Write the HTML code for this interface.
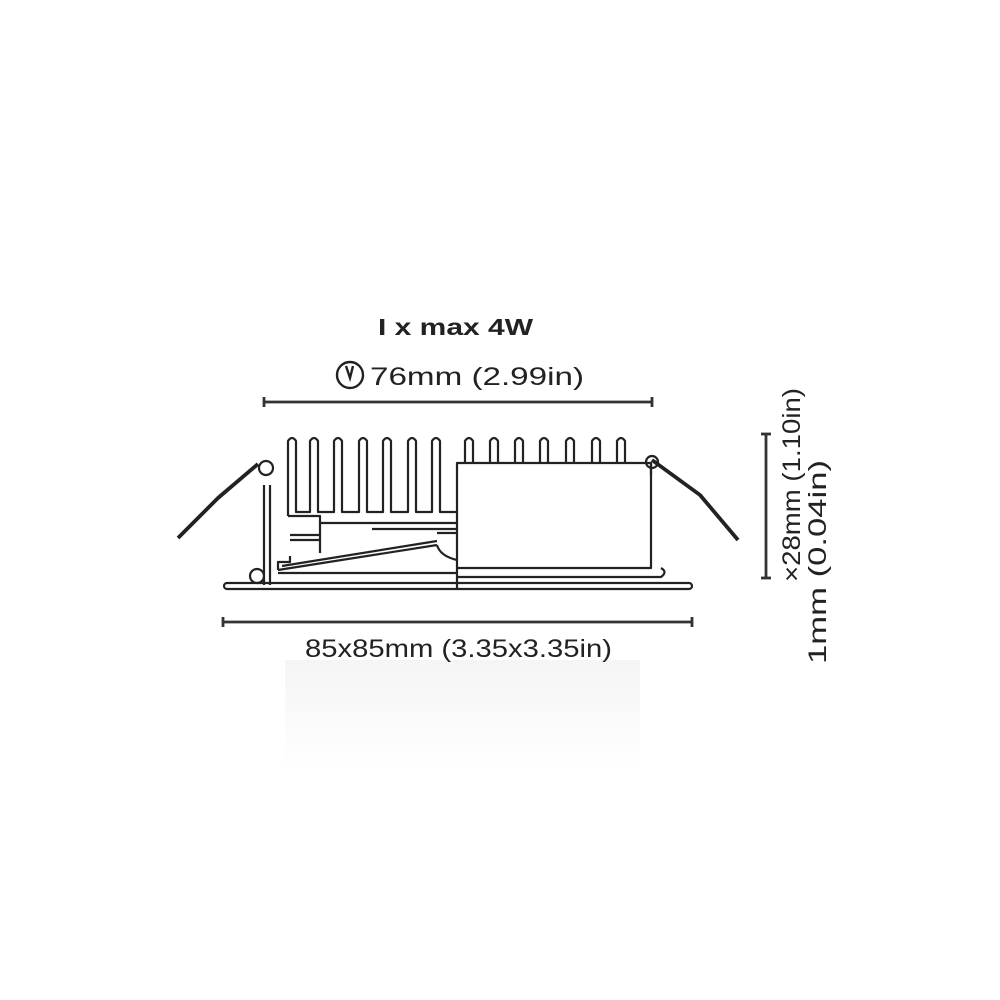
<!DOCTYPE html>
<html><head><meta charset="utf-8"><style>
html,body{margin:0;padding:0;background:#fff;}
svg{display:block}
text{font-family:"Liberation Sans","DejaVu Sans",sans-serif;fill:#222}
</style></head><body>
<svg width="1000" height="1000" viewBox="0 0 1000 1000">
<defs>
<linearGradient id="g" x1="0" y1="0" x2="0" y2="1">
<stop offset="0" stop-color="#eee"/><stop offset="1" stop-color="#fff"/>
</linearGradient>
</defs>
<rect x="285" y="660" width="355" height="110" fill="url(#g)" opacity="0.6"/>
<text x="378" y="335" font-size="23" font-weight="bold" textLength="155" lengthAdjust="spacingAndGlyphs">I x max 4W</text>
<g stroke="#222" stroke-width="2.4" fill="none">
<circle cx="350" cy="375" r="13"/>
<path d="M346 366 L350 378 L353 366"/>
</g>
<text x="370" y="385" font-size="25" textLength="214" lengthAdjust="spacingAndGlyphs">76mm (2.99in)</text>
<g stroke="#333" stroke-width="2.8" fill="none">
<line x1="264" y1="402" x2="652" y2="402"/>
<line x1="264" y1="397" x2="264" y2="407"/>
<line x1="652" y1="397" x2="652" y2="407"/>
<line x1="223" y1="622" x2="692" y2="622"/>
<line x1="223" y1="617" x2="223" y2="627"/>
<line x1="692" y1="617" x2="692" y2="627"/>
<line x1="766" y1="434" x2="766" y2="578"/>
<line x1="761" y1="434" x2="771" y2="434"/>
<line x1="761" y1="578" x2="771" y2="578"/>
</g>
<text x="305" y="657" font-size="25" textLength="307" lengthAdjust="spacingAndGlyphs">85x85mm (3.35x3.35in)</text>
<text transform="translate(800,582) rotate(-90)" font-size="25" textLength="194" lengthAdjust="spacingAndGlyphs">×28mm (1.10in)</text>
<text transform="translate(826,664) rotate(-90)" font-size="25" textLength="204" lengthAdjust="spacingAndGlyphs">1mm (0.04in)</text>
<g stroke="#222" stroke-width="2.2" fill="none" stroke-linejoin="round">
<path d="
M288 516 L288 441 Q292 435 296 441 L296 512 L310 512 L310 441 Q314 435 318 441 L318 512 L334 512 L334 441 Q338 435 342 441 L342 512 L359 512 L359 441 Q363 435 367 441 L367 512 L383 512 L383 441 Q387 435 391 441 L391 512 L408 512 L408 441 Q412 435 416 441 L416 512 L432 512 L432 441 Q436 435 440 441 L440 512 L457 512"/>
<path d="M465 463 L465 441 Q469 435 473 441 L473 463 M490 463 L490 441 Q494 435 498 441 L498 463 M515 463 L515 441 Q519 435 523 441 L523 463 M540 463 L540 441 Q544 435 548 441 L548 463 M566 463 L566 441 Q570 435 574 441 L574 463 M592 463 L592 441 Q596 435 600 441 L600 463 M617 463 L617 441 Q621 435 625 441 L625 463"/>
<path d="M288 516 L320 516 L320 553"/>
<line x1="320" y1="523" x2="457" y2="523"/>
<line x1="372" y1="529" x2="457" y2="529"/>
<path d="M290 535 L320 535 M290 540 L320 540"/>
<rect x="457" y="463" width="194" height="105"/>
<path d="M457 568 L457 588 M457 577 L661 577 Q668 572 661 568"/>
<path d="M278 570 L437 545 M282 566 L437 541 M437 533 L457 533 M437 545 Q440 556 457 560"/>
<line x1="278" y1="573" x2="457" y2="573"/>
<path d="M278 570 L278 562 L290 562 L290 556"/>
<line x1="264" y1="485" x2="264" y2="585"/>
<line x1="270" y1="485" x2="270" y2="585"/>
<circle cx="257" cy="576" r="7"/>
<rect x="224" y="583" width="468" height="6" rx="3"/>
<circle cx="266" cy="468" r="7"/>
<path d="M178 538 L218 498 L258 464" stroke-width="3.8"/>
<circle cx="652" cy="462" r="6"/>
<path d="M652 460 L700 495 L738 540" stroke-width="3.8"/>
<line x1="651" y1="463" x2="651" y2="475"/>
</g>
</svg>
</body></html>
